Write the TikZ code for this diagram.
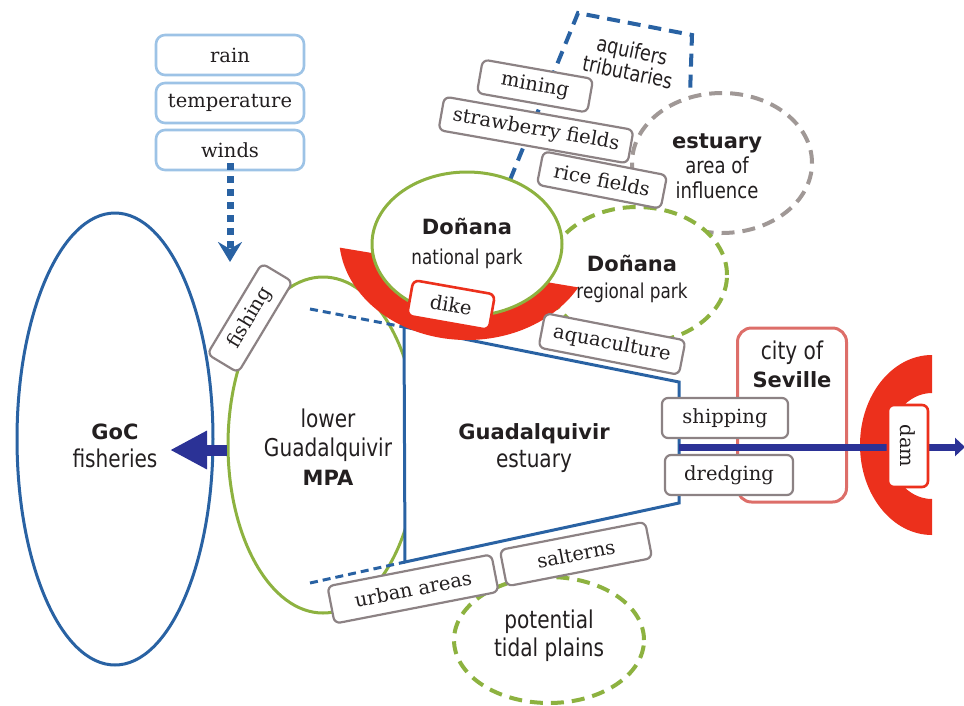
\documentclass[tikz,border=0pt]{standalone}
\usepackage{fontspec}
\usetikzlibrary{shapes.geometric,arrows.meta}
\newfontfamily\rsans{DejaVu Sans}[FakeStretch=0.82]
\newfontfamily\bsans{DejaVu Sans Bold}
\newfontfamily\boxf{DejaVu Serif}
\definecolor{txt}{RGB}{35,31,32}
\definecolor{boxgray}{RGB}{140,130,132}
\definecolor{lblue}{RGB}{157,195,230}
\definecolor{eblue}{RGB}{41,98,163}
\definecolor{arrnavy}{RGB}{43,50,150}
\definecolor{pgreen}{RGB}{141,178,64}
\definecolor{dgray}{RGB}{160,152,150}
\definecolor{dred}{RGB}{236,48,28}
\definecolor{sred}{RGB}{221,110,105}
\newcommand{\boldlbl}[1]{{\bsans\fontsize{21}{26}\selectfont #1}}
\begin{document}
\begin{tikzpicture}[x=1pt,y=-1pt,
  ell/.style={ellipse, inner sep=0pt, line width=3pt},
  dsh/.style={line width=4pt, dash pattern=on 13pt off 8pt},
  gbox/.style={draw=boxgray, line width=2.2pt, fill=white, rounded corners=6pt, inner sep=0pt, minimum height=34pt, text=txt, font=\boxf\fontsize{19.5}{22}\selectfont},
  bbox/.style={gbox, draw=lblue, line width=2.6pt, rounded corners=9pt, minimum width=148pt, minimum height=40pt},
  rbox/.style={gbox, draw=dred, line width=2.6pt},
  lab/.style={align=center, text=txt, inner sep=0pt}]
\useasboundingbox (0,0) rectangle (964,705);

% large regions
\node[ell, draw=eblue, minimum width=196pt, minimum height=452pt] (goc) at (115,439) {};
\node[ell, draw=pgreen, minimum width=190pt, minimum height=336pt] (mpa) at (323,445) {};
\node[ell, draw=pgreen, dsh, fill=white, minimum width=190pt, minimum height=126pt] (tidal) at (549,640) {};

% estuary trapezoid
\coordinate (t1) at (404,327);
\coordinate (t2) at (679,382);
\coordinate (t3) at (679,503);
\coordinate (t4) at (405,562);
\draw[eblue, line width=3pt, fill=white, line join=miter] (t1) -- (t2) -- (t3) -- (t4) -- cycle;
\coordinate (d1) at (310,309);
\coordinate (d2) at (310,583);
\draw[eblue, line width=3pt, dash pattern=on 8pt off 5pt] (d1) -- (t1);
\draw[eblue, line width=3pt, dash pattern=on 8pt off 5pt] (d2) -- (t4);

\node[ell, draw=dgray, dsh, fill=white, minimum width=180pt, minimum height=140pt] (eai) at (722,163) {};
\node[ell, draw=pgreen, dsh, fill=white, minimum width=180pt, minimum height=136pt] (rp) at (637,275) {};

% aquifers / tributaries
\coordinate (a0) at (510,180);
\coordinate (a1) at (578,13);
\coordinate (a2) at (692,35);
\coordinate (a3) at (690,95);
\draw[eblue, dsh, line join=miter] (a0) -- (a1) -- (a2) -- (a3);
\node[lab, rotate=-12, font=\rsans\fontsize{21.5}{22}\selectfont] (aqlbl) at (630,61) {aquifers\\tributaries};

% dike crescent
\begin{scope}
\clip (330,246) -- (600,291) -- (600,360) -- (330,360) -- cycle;
\fill[dred] (467,236) ellipse [x radius=128pt, y radius=104pt];
\end{scope}
\node[ell, draw=pgreen, fill=white, minimum width=190pt, minimum height=144pt] (np) at (467,244) {};

% Seville and dam
\node[draw=sred, line width=3pt, rounded corners=14pt, fill=white, minimum width=109pt, minimum height=174pt] (sev) at (792,415) {};
\begin{scope}[shift={(932,445)}]
\fill[dred] (0pt,90pt) arc[start angle=90, end angle=270, x radius=72pt, y radius=90pt]
  -- (0pt,-54pt) arc[start angle=270, end angle=90, x radius=44pt, y radius=53pt] -- cycle;
\end{scope}
\coordinate (estout) at (679,447);
\coordinate (east) at (965,447);
\draw[arrnavy, line width=7pt, -{Triangle[length=10pt,width=18pt]}] (estout) -- (east);
\node[rbox, rotate=-90, minimum width=82pt, minimum height=40pt] (dam) at (908,446) {dam};

% left arrow
\coordinate (gtip) at (170,450);
\draw[arrnavy, line width=11pt, -{Triangle[length=37pt,width=36pt]}] (mpa.west |- gtip) -- (gtip);

% climate boxes
\node[bbox] (rain) at (230,55) {rain};
\node[bbox] (temp) at (230,103) {temperature};
\node[bbox] (winds) at (230,150) {winds};
\coordinate (wtip) at (230,262);
\draw[eblue, line width=7pt, dash pattern=on 7pt off 6pt, -{Stealth[length=20pt,width=24pt,inset=7pt]}] ([yshift=8pt]winds.south) -- (wtip);

% activity boxes
\node[gbox, rotate=59, minimum width=106pt, minimum height=36pt] (fishing) at (250,318) {fishing};
\node[gbox, rotate=-10, minimum width=112pt] (mining) at (535,86) {mining};
\node[gbox, rotate=-10, minimum width=192pt] (straw) at (536,130) {strawberry fields};
\node[gbox, rotate=-11, minimum width=126pt] (rice) at (602,180) {rice fields};
\node[gbox, rotate=-11, minimum width=143pt, minimum height=35pt] (aqua) at (612,344) {aquaculture};
\node[gbox, minimum width=126pt, minimum height=40pt] (ship) at (725,418) {shipping};
\node[gbox, minimum width=128pt, minimum height=40pt] (dredge) at (729,475) {dredging};
\node[gbox, rotate=11, minimum width=167pt, minimum height=38pt] (urban) at (413,589) {urban areas};
\node[gbox, rotate=11, minimum width=148pt, minimum height=37pt] (salt) at (576,554) {salterns};
\node[rbox, rotate=-10, minimum width=83pt, minimum height=36pt] (dike) at (451,305) {dike};

% labels
\node[lab, font=\rsans\fontsize{24.5}{28}\selectfont] (goclbl) at (115,446) {\boldlbl{GoC}\\fisheries};
\node[lab, font=\rsans\fontsize{24.5}{29}\selectfont] (mpalbl) at (328,447) {lower\\Guadalquivir\\\boldlbl{MPA}};
\node[lab, font=\rsans\fontsize{24.5}{28}\selectfont] (estlbl) at (534,448) {\boldlbl{Guadalquivir}\\estuary};
\node[lab, font=\rsans\fontsize{20.5}{30}\selectfont] (nplbl) at (467,243) {\boldlbl{Doñana}\\national park};
\node[lab, font=\rsans\fontsize{20.5}{27}\selectfont] (rplbl) at (632,279) {\boldlbl{Doñana}\\regional park};
\node[lab, font=\rsans\fontsize{22}{25}\selectfont] (eailbl) at (717,166) {\boldlbl{estuary}\\area of\\influence};
\node[lab, font=\rsans\fontsize{24.5}{28}\selectfont] (sevlbl) at (792,364) {city of\\\boldlbl{Seville}};
\node[lab, font=\rsans\fontsize{24.5}{28}\selectfont] (tidallbl) at (549,636) {potential\\tidal plains};
\end{tikzpicture}
\end{document}
